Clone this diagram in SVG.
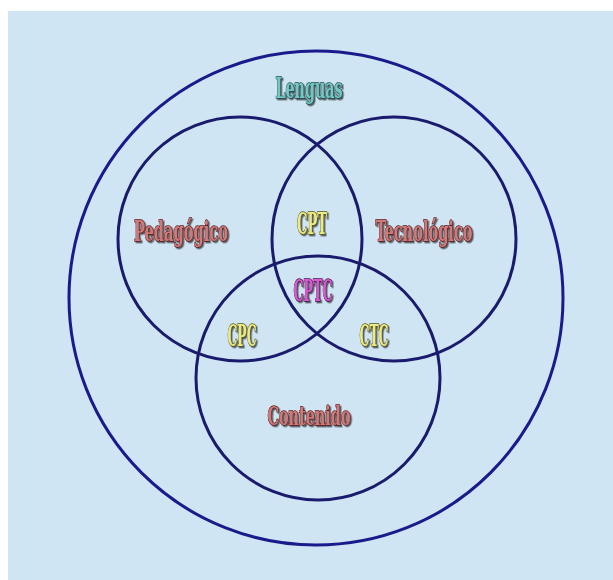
<svg xmlns="http://www.w3.org/2000/svg" width="613" height="580" viewBox="0 0 613 580">
<defs>
<filter id="emb" x="-10%" y="-20%" width="130%" height="150%">
<feDropShadow dx="1.5" dy="1.5" stdDeviation="0.6" flood-color="#1a1a1a" flood-opacity="0.7"/>
</filter>
<style>
.ring{fill:none;stroke:#1b1b6e;stroke-width:3}
.outer{fill:none;stroke:#1a1a8c;stroke-width:3}
.lbl{font-family:"DejaVu Serif","Liberation Serif",serif;font-weight:bold;font-stretch:condensed;text-anchor:middle;stroke-width:1.3;paint-order:stroke;filter:url(#emb)}
.teal{fill:#74c6c4;stroke:#1d4a4a}
.red{fill:#cf7a7a;stroke:#5a1414}
.yel{fill:#ecea82;stroke:#55541a}
.mag{fill:#d85ad0;stroke:#4a0c4a}
</style>
</defs>
<rect x="8" y="11" width="605" height="569" fill="#cfe5f3"/>
<g id="connectors"/>
<g id="lenguas">
<circle class="outer" cx="316" cy="298" r="247"/>
<text class="lbl teal" x="309" y="98" font-size="27" textLength="67" lengthAdjust="spacingAndGlyphs">Lenguas</text>
</g>
<g id="pedagogico">
<circle class="ring" cx="240" cy="239" r="122"/>
<text class="lbl red" x="181" y="241" font-size="28" textLength="94" lengthAdjust="spacingAndGlyphs">Pedagógico</text>
</g>
<g id="tecnologico">
<circle class="ring" cx="394" cy="239" r="122"/>
<text class="lbl red" x="424" y="241" font-size="28" textLength="97" lengthAdjust="spacingAndGlyphs">Tecnológico</text>
</g>
<g id="contenido">
<circle class="ring" cx="318" cy="378" r="122"/>
<text class="lbl red" x="309" y="425" font-size="26" textLength="83" lengthAdjust="spacingAndGlyphs">Contenido</text>
</g>
<g id="cpt">
<text class="lbl yel" x="312" y="234" font-size="30" textLength="30" lengthAdjust="spacingAndGlyphs">CPT</text>
</g>
<g id="cptc">
<text class="lbl mag" x="313" y="301" font-size="30" textLength="39" lengthAdjust="spacingAndGlyphs">CPTC</text>
</g>
<g id="cpc">
<text class="lbl yel" x="242" y="346" font-size="30" textLength="29" lengthAdjust="spacingAndGlyphs">CPC</text>
</g>
<g id="ctc">
<text class="lbl yel" x="374" y="346" font-size="30" textLength="29" lengthAdjust="spacingAndGlyphs">CTC</text>
</g>
</svg>
